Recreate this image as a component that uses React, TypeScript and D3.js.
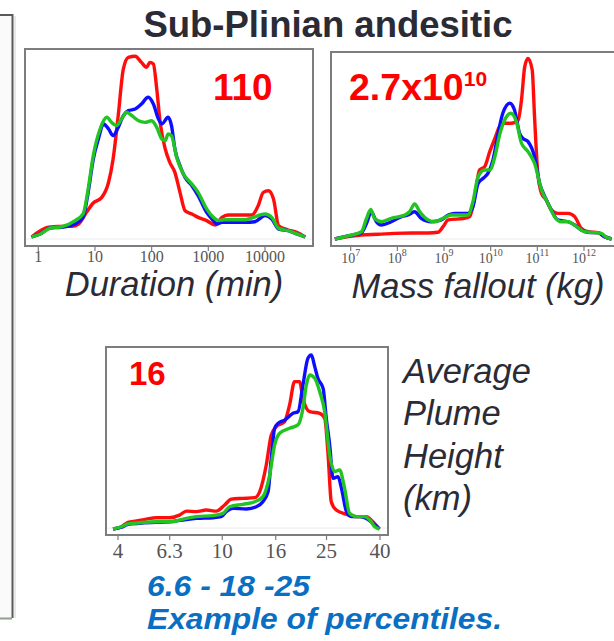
import React from "react";
import * as d3 from "d3";

const width = 614;
const height = 641;

const sans = "'Liberation Sans', Arial, sans-serif";
const serif = "'Liberation Serif', 'Times New Roman', serif";
const dark = "#2b2b35";
const colors = { red: "#ff1010", blue: "#1010ff", green: "#22c422" };

// tick labels
const durationTicks = [1, 10, 100, 1000, 10000];
const massTickExps = [7, 8, 9, 10, 11, 12];
const heightTicks = [4, 6.3, 10, 16, 25, 40];

// duration: [log10(min), density]
const durationRed = [
  [-0.12, 0], [0.18, 5.4], [0.35, 5.9], [0.59, 5.9], [0.71, 7.2], [0.85, 13.7], [0.97, 18.9],
  [1.12, 22], [1.24, 30.4], [1.32, 43.3], [1.41, 67.4], [1.5, 93.3], [1.59, 99.8], [1.71, 100.4],
  [1.82, 97], [1.91, 94.3], [1.97, 97], [2.03, 96.1], [2.09, 82.2], [2.15, 63.7], [2.24, 48.9],
  [2.32, 41.5], [2.41, 35.9], [2.5, 24.8], [2.59, 14.6], [2.71, 12.8], [2.82, 10.9], [2.97, 9.1],
  [3.12, 6.7], [3.24, 10.9], [3.35, 12.2], [3.77, 12.2], [3.88, 17.4], [3.97, 24.8], [4.06, 25.7],
  [4.15, 21.1], [4.24, 6.3], [4.41, 3.9], [4.56, 2.6], [4.71, 0],
];
const durationBlue = [
  [-0.12, 0], [0.03, 1.7], [0.21, 5], [0.41, 5.4], [0.65, 7.2], [0.79, 10.9], [0.88, 24.8],
  [0.97, 43.3], [1.06, 54.4], [1.15, 62.8], [1.24, 60], [1.32, 56.3], [1.41, 60.9], [1.5, 67.4],
  [1.59, 70.2], [1.71, 71.1], [1.82, 73.9], [1.94, 77.6], [2.03, 73.9], [2.12, 65.6], [2.18, 62.8],
  [2.29, 66.5], [2.35, 61.9], [2.41, 48.9], [2.5, 39.6], [2.59, 33.1], [2.71, 28.5], [2.82, 23],
  [2.97, 13.7], [3.09, 9.1], [3.15, 7.2], [3.24, 8.1], [3.65, 8.1], [3.82, 8.5], [4, 11.9],
  [4.12, 10], [4.24, 4.4], [4.41, 3.5], [4.56, 1.7], [4.71, 0],
];
const durationGreen = [
  [-0.12, 0], [0.03, 1.5], [0.21, 5], [0.41, 5.7], [0.65, 9.1], [0.79, 12.8], [0.88, 26.7],
  [0.97, 45.2], [1.09, 60], [1.21, 66.5], [1.29, 63.7], [1.38, 61.9], [1.47, 65.6], [1.56, 69.3],
  [1.65, 67.4], [1.77, 64.6], [1.88, 63.7], [2, 64.6], [2.09, 60.9], [2.18, 54.4], [2.24, 53.5],
  [2.29, 57.2], [2.35, 56.3], [2.44, 44.3], [2.56, 35], [2.71, 29.4], [2.82, 24.8], [2.97, 15.6],
  [3.09, 10.9], [3.18, 9.1], [3.29, 9.6], [3.65, 9.6], [3.88, 11.9], [4, 12.8], [4.12, 10.9],
  [4.24, 4.8], [4.41, 3.5], [4.56, 1.7], [4.71, 0],
];

// mass fallout: [log10(kg), density]
const massRed = [
  [6.66, 0], [6.94, 1.3], [7.23, 2.2], [7.59, 2.6], [7.94, 3.1], [8.3, 3.3], [8.66, 3.3],
  [8.87, 3.7], [8.98, 6.8], [9.09, 10.5], [9.44, 11.4], [9.55, 12.3], [9.66, 23.3], [9.76, 38],
  [9.87, 39.8], [9.98, 48.1], [10.09, 55.4], [10.19, 61.8], [10.3, 63.7], [10.44, 63.7],
  [10.59, 65.5], [10.66, 76.5], [10.73, 94.9], [10.8, 99.4], [10.89, 93], [10.94, 67.3],
  [11.01, 36.1], [11.09, 25.1], [11.19, 21.5], [11.3, 16], [11.44, 14.1], [11.66, 14.1],
  [11.8, 12.3], [11.94, 5.9], [12.09, 4], [12.3, 3.5], [12.44, 1.3], [12.59, 0],
];
const massBlue = [
  [6.66, 0], [6.94, 1.7], [7.23, 3.5], [7.34, 8.6], [7.44, 15], [7.55, 9.5], [7.66, 7.7],
  [7.87, 9.5], [8.09, 12.3], [8.23, 13.2], [8.37, 15], [8.51, 11.4], [8.73, 9.5], [8.94, 10.5],
  [9.09, 13.2], [9.23, 14.1], [9.51, 14.1], [9.62, 17.8], [9.73, 30.6], [9.84, 33.4], [9.94, 36.1],
  [10.05, 43.5], [10.16, 58.2], [10.26, 69.2], [10.41, 74.7], [10.51, 71], [10.62, 58.2],
  [10.69, 55.4], [10.8, 53.6], [10.94, 45.3], [11.05, 30.6], [11.16, 23.3], [11.3, 16],
  [11.44, 10.5], [11.66, 9.5], [11.8, 7.7], [11.94, 5], [12.16, 3.5], [12.3, 3.5], [12.44, 1.3],
  [12.59, 0],
];
const massGreen = [
  [6.66, 0], [6.94, 1.7], [7.23, 4], [7.34, 11.4], [7.43, 16.3], [7.51, 11.4], [7.66, 9.5],
  [7.87, 11.4], [8.16, 13.2], [8.26, 15], [8.37, 19.3], [8.48, 15], [8.66, 10.5], [8.8, 9.5],
  [8.98, 11.4], [9.16, 13.2], [9.51, 13.2], [9.62, 20.6], [9.73, 34.3], [9.87, 38], [9.98, 38],
  [10.09, 45.3], [10.19, 57.2], [10.3, 65.5], [10.43, 69.2], [10.55, 64.6], [10.66, 52.7],
  [10.8, 48.1], [10.94, 41.7], [11.09, 27], [11.23, 19.6], [11.37, 12.3], [11.51, 9.5],
  [11.66, 9.5], [11.84, 6.8], [12.01, 4], [12.23, 3.5], [12.37, 3.1], [12.48, 0.9], [12.59, 0],
];

// plume height: [log10(km), density]
const plumeRed = [
  [0.583, 0], [0.615, 1.3], [0.64, 3.8], [0.672, 4.6], [0.71, 5.7], [0.748, 6.5], [0.799, 6.5],
  [0.837, 8], [0.863, 10.3], [0.901, 10], [0.939, 10.9], [0.977, 10.3], [1.009, 13.8],
  [1.035, 17.2], [1.079, 17.6], [1.124, 18], [1.143, 21.5], [1.168, 36.8], [1.187, 54],
  [1.206, 58.8], [1.238, 61.7], [1.257, 71.3], [1.276, 84.7], [1.295, 84.7], [1.308, 75.1],
  [1.334, 67.4], [1.372, 66.5], [1.391, 63.6], [1.404, 42.5], [1.416, 15.7], [1.435, 10.9],
  [1.474, 8.4], [1.512, 7.1], [1.55, 7.1], [1.575, 4.2], [1.6, 0],
];
const plumeBlue = [
  [0.583, 0], [0.615, 1], [0.64, 2.7], [0.685, 3.3], [0.748, 3.8], [0.799, 4.2], [0.85, 5.2],
  [0.901, 6.1], [0.965, 6.5], [0.996, 7.1], [1.015, 10], [1.041, 11.9], [1.092, 11.5],
  [1.13, 12.8], [1.155, 15.7], [1.175, 21.5], [1.187, 40.6], [1.2, 57.9], [1.213, 60.7],
  [1.238, 62.6], [1.27, 66.5], [1.289, 67.4], [1.308, 82.8], [1.327, 98.1], [1.34, 100],
  [1.353, 93.3], [1.365, 86.6], [1.385, 80.8], [1.397, 63.6], [1.41, 48.3], [1.423, 29.1],
  [1.442, 30.1], [1.455, 23.4], [1.474, 10], [1.493, 7.1], [1.525, 7.1], [1.55, 6.1],
  [1.575, 3.3], [1.6, 0],
];
const plumeGreen = [
  [0.583, 0], [0.615, 1.3], [0.64, 2.9], [0.685, 3.6], [0.748, 4.2], [0.812, 4.2], [0.85, 5.7],
  [0.901, 7.1], [0.965, 7.7], [1.003, 9], [1.028, 12.8], [1.079, 14.2], [1.124, 15.7],
  [1.155, 18.6], [1.181, 31], [1.2, 48.3], [1.219, 55], [1.257, 57.9], [1.289, 59.8],
  [1.308, 69.3], [1.321, 82.8], [1.334, 88.5], [1.353, 86.6], [1.372, 78.9], [1.391, 67.4],
  [1.41, 42.5], [1.429, 33], [1.448, 33.9], [1.467, 23.4], [1.486, 9], [1.512, 7.1],
  [1.544, 7.1], [1.563, 5.2], [1.582, 1.3], [1.6, 0],
];

type Pt = number[];

const Curves = ({ series, x, y }: { series: Pt[][]; x: any; y: any }) => {
  const line = d3
    .line<Pt>()
    .x((d) => x(10 ** d[0]))
    .y((d) => y(d[1]))
    .curve(d3.curveMonotoneX);
  const cols = [colors.red, colors.blue, colors.green];
  return (
    <g filter="url(#soft)">
      {series.map((s, i) => (
        <path key={i} d={line(s) || ""} fill="none" stroke={cols[i]} strokeWidth={3.4} strokeLinejoin="round" />
      ))}
    </g>
  );
};

const Frame = ({ x0, y0, x1, y1 }: { x0: number; y0: number; x1: number; y1: number }) => (
  <g>
    <rect x={x0} y={y0} width={x1 - x0} height={y1 - y0} fill="#fff" stroke="#7d7d7d" strokeWidth={2} />
    <line x1={x0 + 1} x2={x1 - 1} y1={y1 - 7} y2={y1 - 7} stroke="#ececec" strokeWidth={1} />
  </g>
);

export default function App() {
  // panel 1: duration
  const x1 = d3.scaleLog().domain([1, 1e4]).range([38.3, 265]);
  const y1 = d3.scaleLinear().domain([0, 100]).range([237, 57]);
  // panel 2: mass fallout
  const x2 = d3.scaleLog().domain([1e7, 1e12]).range([350.7, 584]);
  const y2 = d3.scaleLinear().domain([0, 100]).range([239, 57.3]);
  // panel 3: plume height
  const x3 = d3.scaleLog().domain([4, 40]).range([118, 380]);
  const y3 = d3.scaleLinear().domain([0, 100]).range([529, 355]);

  return (
    <svg width={width} height={height} style={{ position: "absolute", left: 0, top: 0, background: "#fff" }}>
      <defs>
        <filter id="soft" x="-5%" y="-5%" width="110%" height="110%">
          <feGaussianBlur stdDeviation={0.5} />
        </filter>
      </defs>
      <rect x={0} y={15} width={12.5} height={603} fill="#fafafa" />
      <path d="M0,15 H12.5 V618" fill="none" stroke="#5a5a5a" strokeWidth={2} />
      <line x1={15} x2={15} y1={16} y2={618} stroke="#e2e2e2" strokeWidth={1.5} />
      <line x1={0} x2={12} y1={618.5} y2={618.5} stroke="#8fa090" strokeWidth={2} />

      <text x={328} y={37} textAnchor="middle" fontFamily={sans} fontWeight="bold" fontSize={36.5} fill={dark}>
        Sub-Plinian andesitic
      </text>

      {/* panel 1 */}
      <Frame x0={25} y0={49} x1={313} y1={246} />
      {durationTicks.map((t) => (
        <g key={t}>
          <line x1={x1(t)} x2={x1(t)} y1={246} y2={251} stroke="#7d7d7d" strokeWidth={1.2} />
          <text x={x1(t)} y={262} textAnchor="middle" fontFamily={serif} fontSize={16} fill="#555">
            {t}
          </text>
        </g>
      ))}
      <Curves series={[durationRed, durationBlue, durationGreen]} x={x1} y={y1} />
      <text x={213} y={100} fontFamily={sans} fontWeight="bold" fontSize={37} fill="#ff0000">
        110
      </text>
      <text x={174} y={296} textAnchor="middle" fontFamily={sans} fontStyle="italic" fontSize={34.5} fill={dark}>
        Duration (min)
      </text>

      {/* panel 2 */}
      <Frame x0={331} y0={52} x1={620} y1={246} />
      {massTickExps.map((e) => (
        <g key={e}>
          <line x1={x2(10 ** e)} x2={x2(10 ** e)} y1={246} y2={251} stroke="#7d7d7d" strokeWidth={1.2} />
          <text x={x2(10 ** e)} y={263} textAnchor="middle" fontFamily={serif} fontSize={14} fill="#555">
            10
            <tspan dy={-7} fontSize={10}>
              {e}
            </tspan>
          </text>
        </g>
      ))}
      <Curves series={[massRed, massBlue, massGreen]} x={x2} y={y2} />
      <text x={349} y={100} fontFamily={sans} fontWeight="bold" fontSize={37.5} fill="#ff0000">
        2.7x10
        <tspan dy={-14} fontSize={21}>
          10
        </tspan>
      </text>
      <text x={478} y={298} textAnchor="middle" fontFamily={sans} fontStyle="italic" fontSize={34.5} fill={dark}>
        Mass fallout (kg)
      </text>

      {/* panel 3 */}
      <Frame x0={106} y0={347} x1={388} y1={535} />
      {heightTicks.map((t) => (
        <g key={t}>
          <line x1={x3(t)} x2={x3(t)} y1={535} y2={540} stroke="#7d7d7d" strokeWidth={1.2} />
          <text x={x3(t)} y={558} textAnchor="middle" fontFamily={serif} fontSize={21} fill="#555">
            {t}
          </text>
        </g>
      ))}
      <Curves series={[plumeRed, plumeBlue, plumeGreen]} x={x3} y={y3} />
      <text x={129} y={385} fontFamily={sans} fontWeight="bold" fontSize={33} fill="#ff0000">
        16
      </text>
      {["Average", "Plume", "Height", "(km)"].map((w, i) => (
        <text key={w} x={403} y={383 + i * 42.3} fontFamily={sans} fontStyle="italic" fontSize={34.5} fill={dark}>
          {w}
        </text>
      ))}

      <text x={147} y={595.5} fontFamily={sans} fontStyle="italic" fontWeight="bold" fontSize={29}
        textLength={163} lengthAdjust="spacingAndGlyphs" fill="#0a6fc2">
        6.6 - 18 -25
      </text>
      <text x={147} y={628.5} fontFamily={sans} fontStyle="italic" fontWeight="bold" fontSize={29}
        textLength={355} lengthAdjust="spacingAndGlyphs" fill="#0a6fc2">
        Example of percentiles.
      </text>
    </svg>
  );
}
